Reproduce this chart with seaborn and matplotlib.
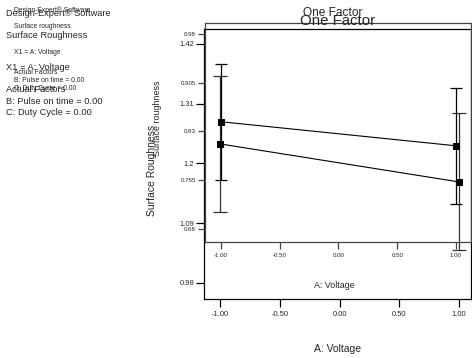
import numpy as np
import pandas as pd
import seaborn as sns
import matplotlib
matplotlib.use("Agg")
import matplotlib.pyplot as plt

OUTPUT_FILE = "out.png"
W, H = 472, 358

# two overlaid Design-Expert "One Factor" plots
VOLTAGE = [-1.0, 1.0]

BIG_MEAN = [1.236, 1.166]
BIG_ERR = [0.125, 0.126]
BIG_YTICKS = [0.98, 1.09, 1.2, 1.31, 1.42]
BIG_YLABELS = ["0.98", "1.09", "1.2", "1.31", "1.42"]

SMALL_MEAN = [0.845, 0.808]
SMALL_ERR = [0.089, 0.089]
SMALL_YTICKS = [0.68, 0.755, 0.83, 0.905, 0.98]
SMALL_YLABELS = ["0.68", "0.755", "0.83", "0.905", "0.98"]

XTICKS = [-1.0, -0.5, 0.0, 0.5, 1.0]
XLABELS = ["-1.00", "-0.50", "0.00", "0.50", "1.00"]

BIG_INFO = ["Design-Expert® Software", "Surface Roughness", "X1 = A: Voltage",
            "Actual Factors", "B: Pulse on time = 0.00", "C: Duty Cycle = 0.00"]
SMALL_INFO = ["Design-Expert® Software", "Surface roughness", "X1 = A: Voltage",
              "Actual Factors", "B: Pulse on time = 0.00", "C: Duty Cycle = 0.00"]


def px(x, y):
    return x / W, 1 - y / H


def add_axes(fig, left, top, right, bottom):
    x0, y0 = px(left, bottom)
    x1, y1 = px(right, top)
    return fig.add_axes([x0, y0, x1 - x0, y1 - y0])


def draw_panel(ax, mean, err, yticks, ylabels, ylim, xlim, s):
    # s = size set for this panel
    df = pd.DataFrame({"Voltage": VOLTAGE, "Roughness": mean})
    ax.errorbar(df["Voltage"], df["Roughness"], yerr=err, fmt="none",
                ecolor=s["ecolor"], elinewidth=0.9, capsize=s["cap"],
                capthick=0.9, clip_on=False, zorder=3)
    sns.lineplot(data=df, x="Voltage", y="Roughness", ax=ax, color="black",
                 linewidth=0.8, marker="s", markersize=s["ms"],
                 markeredgecolor="black", zorder=4)
    ax.set_xlim(*xlim)
    ax.set_ylim(*ylim)
    ax.set_xticks(XTICKS)
    ax.set_xticklabels(XLABELS)
    ax.set_yticks(yticks)
    ax.set_yticklabels(ylabels)
    ax.tick_params(axis="both", direction="out", length=s["tick"], width=0.9,
                   labelsize=s["tsize"], color=s["spine"], pad=s["pad"],
                   bottom=True, left=True, top=False, right=False)
    ax.tick_params(axis="x", pad=s["xpad"])
    for spine in ax.spines.values():
        spine.set_visible(True)
        spine.set_color(s["spine"])
        spine.set_linewidth(0.9)
    ax.patch.set_alpha(0)
    ax.grid(False)


def main():
    sns.set_theme(style="white")
    plt.rcParams["font.family"] = ["Liberation Sans", "DejaVu Sans"]

    fig = plt.figure(figsize=(W / 100, H / 100), dpi=100)

    big = add_axes(fig, 204, 29, 471, 299)
    small = add_axes(fig, 205, 23, 471, 242)

    draw_panel(big, BIG_MEAN, BIG_ERR, BIG_YTICKS, BIG_YLABELS,
               (0.9504, 1.4476), (-1.134, 1.100),
               dict(ecolor="#333333", cap=4.8, ms=4.7, tick=5.5, tsize=5.4,
                    spine="black", pad=1.5, xpad=3.0))
    draw_panel(small, SMALL_MEAN, SMALL_ERR, SMALL_YTICKS, SMALL_YLABELS,
               (0.66, 0.9969), (-1.136, 1.128),
               dict(ecolor="black", cap=4.3, ms=4.7, tick=5.0, tsize=4.4,
                    spine="#444444", pad=1.5, xpad=3.0))

    # axis labels
    big.set_xlabel("A: Voltage", fontsize=7.5, va="center")
    big.xaxis.set_label_coords(*px(338, 349), transform=fig.transFigure)
    small.set_xlabel("A: Voltage", fontsize=6.4, va="center")
    small.xaxis.set_label_coords(*px(334, 285), transform=fig.transFigure)
    big.set_ylabel("Surface Roughness", fontsize=7.5, va="center")
    big.yaxis.set_label_coords(*px(152, 170), transform=fig.transFigure)
    small.set_ylabel("Surface roughness", fontsize=6.4, va="center")
    small.yaxis.set_label_coords(*px(157, 118), transform=fig.transFigure)

    # titles
    fig.text(*px(338, 21), "One Factor", fontsize=10.8, ha="center", va="center")
    fig.text(*px(333, 13), "One Factor", fontsize=8.6, ha="center", va="center")

    # info text on the left
    for text, y in zip(BIG_INFO, [14, 35, 68, 89, 102, 113]):
        fig.text(*px(6, y), text, fontsize=6.7, ha="left", va="center")
    for text, y in zip(SMALL_INFO, [10, 27, 53, 72, 80, 88]):
        fig.text(*px(14, y), text, fontsize=4.9, ha="left", va="center")

    fig.savefig(OUTPUT_FILE, dpi=100)


if __name__ == "__main__":
    main()
